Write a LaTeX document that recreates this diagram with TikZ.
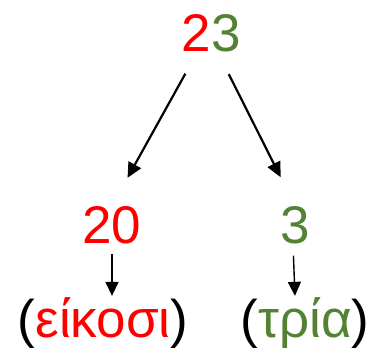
\documentclass[tikz,border=0pt]{standalone}
\usepackage{fontspec}
\setmainfont{Liberation Sans}
\usepackage{xcolor}
\usetikzlibrary{arrows.meta}
\definecolor{numred}{RGB}{255,0,0}
\definecolor{numgreen}{RGB}{84,130,53}

\begin{document}
\begin{tikzpicture}[x=1pt, y=-1pt,
  num/.style={inner sep=0pt, anchor=base, font=\fontsize{53}{60}\selectfont},
  big/.style={-{Triangle[length=15pt,width=14pt]}, line width=2.2pt},
  small/.style={-{Triangle[length=14pt,width=13pt]}, line width=1.4pt}]
\useasboundingbox (0,0) rectangle (370,348);
\node[num] (n23) at (211,52) {\textcolor{numred}{2}\textcolor{numgreen}{3}};
\node[num, numred] (n20) at (112,243) {20};
\node[num, numgreen] (n3) at (295,243) {3};
\node[num] (w20) at (103,337) {(\textcolor{numred}{είκοσι})};
\node[num] (w3) at (305,337) {(\textcolor{numgreen}{τρία})};
\path
([xshift=-14pt]n23.south) edge[big, shorten <=24pt, shorten >=32pt] (n20.north)
([xshift=7pt]n23.south) edge[big, shorten <=24pt, shorten >=32pt] (n3.north)
(n20.south) edge[small, shorten <=10pt, shorten >=1pt] (n20.south |- w20.north)
([xshift=-2pt]n3.south) edge[small, shorten <=12pt, shorten >=1pt] (n3.south |- w3.north)
;
\end{tikzpicture}
\end{document}
